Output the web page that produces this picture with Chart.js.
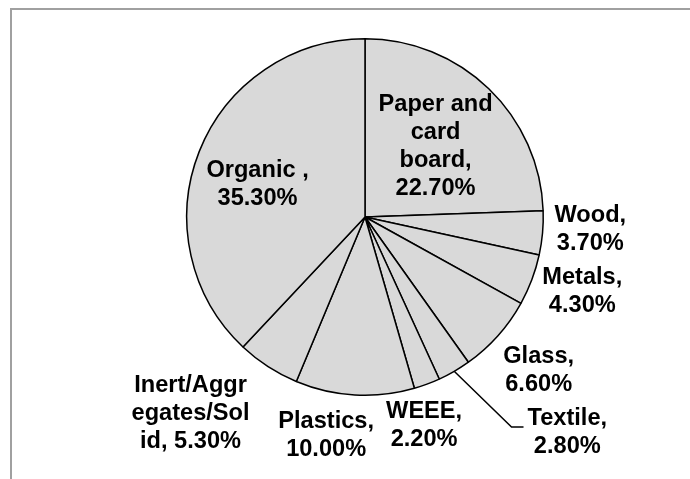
<!DOCTYPE html>
<html>
<head>
<meta charset="utf-8">
<script src="https://cdn.jsdelivr.net/npm/chart.js@4"></script>
<style>
  html, body { margin: 0; padding: 0; background: #fff; }
  #wrap { position: relative; width: 690px; height: 479px; overflow: hidden; }
  #frame { position: absolute; left: 10px; top: 8px; width: 720px; height: 520px;
           border-top: 2px solid #a0a0a0; border-left: 2px solid #a0a0a0; }
  canvas { position: absolute; left: 0; top: 0; }
</style>
</head>
<body>
<div id="wrap">
  <div id="frame"></div>
  <canvas id="wasteChart" width="690" height="479"></canvas>
</div>
<script>
// waste composition, clockwise from 12 o'clock
const categories = ['Paper and card board', 'Wood', 'Metals', 'Glass', 'Textile',
                    'WEEE', 'Plastics', 'Inert/Aggregates/Solid', 'Organic '];
const shares = [22.7, 3.7, 4.3, 6.6, 2.8, 2.2, 10.0, 5.3, 35.3];

// label placement: distance from centre (in radii), turn from slice middle (deg), wrap width (px)
const labelDist = [0.56, 1.266, 1.288, 1.30, 1.66, 1.215, 1.244, 1.476, 0.63];
const labelTurn = [1, -1.9, -1.8, -0.3, -13.1, 4.5, 6.8, 8.6, -4.7];
const labelWidth = [120, 88, 92, 82, 92, 82, 108, 120, 112];
const leaderOn = [false, false, false, false, true, false, false, false, false];

function wrapText(ctx, text, maxW) {
  const lines = [];
  let line = '';
  for (const word of text.split(' ')) {
    const trial = line ? line + ' ' + word : word;
    if (ctx.measureText(trial).width <= maxW) { line = trial; continue; }
    if (line) lines.push(line);
    // long words get chopped like Excel does
    let rest = word;
    while (ctx.measureText(rest).width > maxW) {
      let n = rest.length;
      while (n > 1 && ctx.measureText(rest.slice(0, n)).width > maxW) n--;
      lines.push(rest.slice(0, n));
      rest = rest.slice(n);
    }
    line = rest;
  }
  if (line) lines.push(line);
  return lines;
}

const sliceLabels = {
  id: 'sliceLabels',
  afterDatasetsDraw(chart) {
    const ctx = chart.ctx;
    const arcs = chart.getDatasetMeta(0).data;
    const lh = 28;
    ctx.save();
    ctx.font = 'bold 23.6px "Liberation Sans", Arial, sans-serif';
    ctx.fillStyle = '#000';
    ctx.strokeStyle = '#000';
    ctx.lineWidth = 1.5;
    ctx.textAlign = 'center';
    ctx.textBaseline = 'middle';
    arcs.forEach((arc, i) => {
      const p = arc.getProps(['x', 'y', 'startAngle', 'endAngle', 'outerRadius'], true);
      const mid = (p.startAngle + p.endAngle) / 2;
      const a = mid + labelTurn[i] * Math.PI / 180;
      const lx = p.x + Math.cos(a) * p.outerRadius * labelDist[i];
      const ly = p.y + Math.sin(a) * p.outerRadius * labelDist[i];
      const text = categories[i] + ', ' + shares[i].toFixed(2) + '%';
      const lines = wrapText(ctx, text, labelWidth[i]);
      const top = ly - (lines.length - 1) * lh / 2;
      lines.forEach((ln, k) => ctx.fillText(ln, lx, top + k * lh));

      if (leaderOn[i]) {
        const w = Math.max(...lines.map(ln => ctx.measureText(ln).width));
        const ex = lx - w / 2 - 4;
        const ey = ly - 6;
        ctx.beginPath();
        ctx.moveTo(p.x + Math.cos(mid) * p.outerRadius, p.y + Math.sin(mid) * p.outerRadius);
        ctx.lineTo(ex - 12, ey);
        ctx.lineTo(ex, ey);
        ctx.stroke();
      }
    });
    ctx.restore();
  }
};

new Chart(document.getElementById('wasteChart'), {
  type: 'pie',
  data: {
    labels: categories,
    datasets: [{
      data: shares,
      backgroundColor: '#d9d9d9',
      borderColor: '#000',
      borderWidth: 1.5
    }]
  },
  options: {
    responsive: false,
    animation: false,
    layout: { padding: { left: 186, right: 146, top: 38, bottom: 83 } },
    plugins: {
      legend: { display: false },
      tooltip: { enabled: false }
    }
  },
  plugins: [sliceLabels]
});
</script>
</body>
</html>
